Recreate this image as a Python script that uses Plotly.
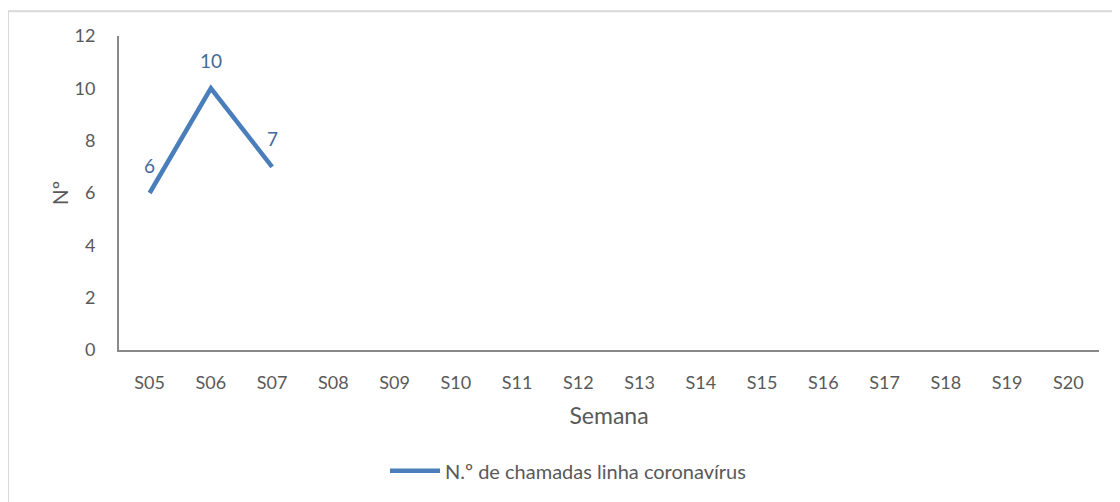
import plotly.graph_objects as go

weeks = ["S05", "S06", "S07", "S08", "S09", "S10", "S11", "S12", "S13", "S14",
         "S15", "S16", "S17", "S18", "S19", "S20"]
calls_weeks = ["S05", "S06", "S07"]
calls = [6, 10, 7]
series_name = "N.º de chamadas linha coronavírus"
y_ticks = [0, 2, 4, 6, 8, 10, 12]

# page has an 8px body margin, so figure is sized to fit inside the viewport
W, H = 1112, 494
L, R, T, B = 111, 21, 28, 149
pw, ph = W - L - R, H - T - B
FONT = "Lato"
GRAY = "#595959"

fig = go.Figure()
fig.add_trace(go.Scatter(
    x=calls_weeks, y=calls, mode="lines", name=series_name,
    line=dict(color="#4a7ebb", width=4.5),
))
# keep all categories on the axis
fig.add_trace(go.Scatter(x=weeks, y=[None] * len(weeks), mode="lines",
                         showlegend=False, hoverinfo="skip"))

annotations = [dict(x=w, y=v, text=str(v), showarrow=False, yshift=28,
                    font=dict(family=FONT, size=19, color="#44699c"))
               for w, v in zip(calls_weeks, calls)]

fig.update_layout(
    width=W, height=H,
    margin=dict(l=L, r=R, t=T, b=B),
    paper_bgcolor="white", plot_bgcolor="white",
    font=dict(family=FONT, color=GRAY),
    showlegend=True,
    legend=dict(orientation="h", x=(560 - L) / pw, xanchor="center",
                y=(345 - 467) / ph, yanchor="middle", itemwidth=50,
                font=dict(family=FONT, size=20, color=GRAY)),
    xaxis=dict(type="category", categoryorder="array", categoryarray=weeks,
               range=[-0.5, len(weeks) - 0.5], automargin=False,
               showline=True, linecolor="#898989", linewidth=2,
               showgrid=False, zeroline=False, ticks="",
               tickfont=dict(family=FONT, size=18, color=GRAY),
               ticklabelstandoff=15,
               title=dict(text="Semana", font=dict(family=FONT, size=23, color=GRAY),
                          standoff=16)),
    yaxis=dict(range=[0, 12], tickvals=y_ticks, automargin=False,
               showline=True, linecolor="#898989", linewidth=2,
               showgrid=False, zeroline=False, ticks="",
               tickfont=dict(family=FONT, size=18, color=GRAY),
               ticklabelstandoff=18,
               title=dict(text="Nº", font=dict(family=FONT, size=21, color=GRAY),
                          standoff=0)),
    annotations=annotations,
    shapes=[dict(type="rect", xref="paper", yref="paper",
                 x0=(0 - L) / pw, x1=1.1, y0=-1.0, y1=(345 - 3) / ph,
                 line=dict(color="#d9d9d9", width=2), layer="below")],
)

fig.write_html("out.html")
